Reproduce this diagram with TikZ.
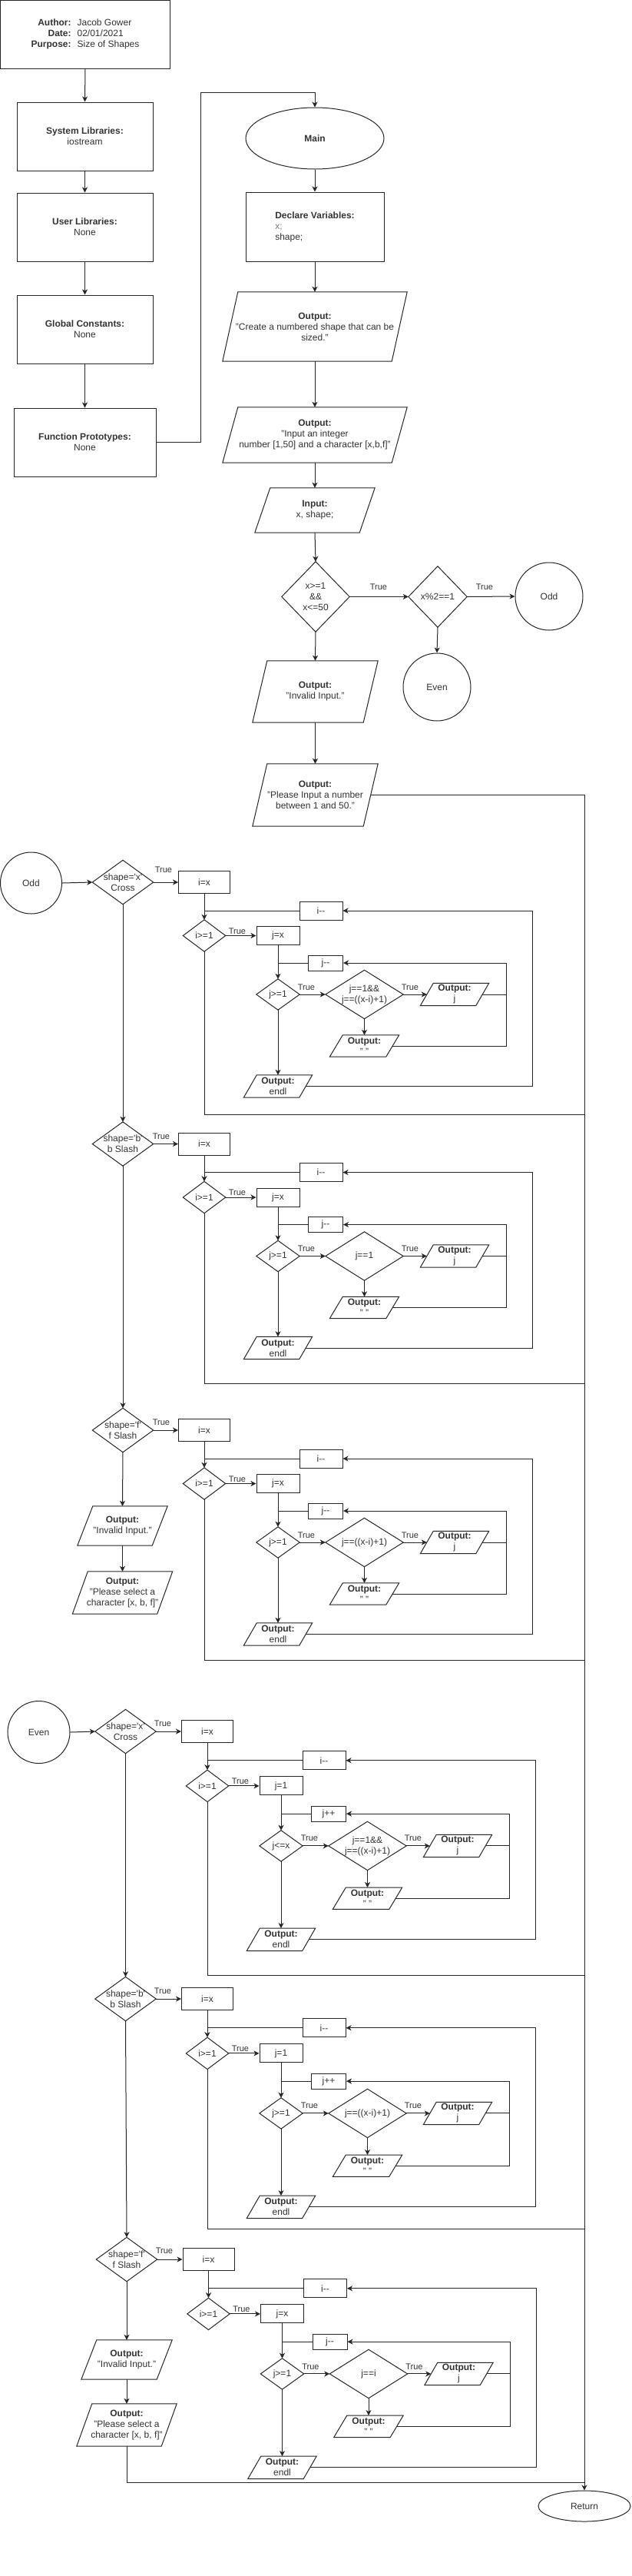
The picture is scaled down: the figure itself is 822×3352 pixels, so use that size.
\documentclass[tikz,border=0pt]{standalone}
\usepackage{fontspec}
\setmainfont{Liberation Sans}
\usetikzlibrary{shapes.geometric,arrows.meta,calc}
\tikzset{
  ln/.style={draw=black!85, line width=1pt},
  arr/.style={ln, -{Stealth[length=7pt,width=7pt,inset=2pt]}},
  shp/.style={draw=black!85, line width=1pt},
  txt/.style={font=\fontsize{12}{14}\selectfont, text=black!80, align=center, inner sep=0pt},
  pbox/.style={txt, rectangle, draw=black!85, line width=1pt},
  dtext/.style={txt, rectangle},
  rnd/.style={txt, draw=black!85, line width=1pt},
  lbl/.style={font=\fontsize{11}{13}\selectfont, text=black!80, inner sep=0pt},
}
\newcommand\para[7]{%
  \node[txt, minimum width={(#4-#6)*1pt}, minimum height={#5*1pt}] (#1) at ({#2},{#3}) {#7};
  \draw[shp] ([xshift={#6*0.5pt}]#1.north west) -- ([xshift={#6*0.5pt}]#1.north east) -- ([xshift={-#6*0.5pt}]#1.south east) -- ([xshift={-#6*0.5pt}]#1.south west) -- cycle;
}
\newcommand\dia[1]{\draw[shp] (#1.north) -- (#1.east) -- (#1.south) -- (#1.west) -- cycle;}
\newcommand\loopblock[8]{%
  \node[pbox, minimum width=67pt, minimum height=29pt] (#1ix) at ({266+#2},{#3}) {i=x};
  \node[pbox, minimum width=56pt, minimum height=24pt] (#1id) at ({418+#2},{#3+37*#4}) {i-\kern0pt-};
  \node[dtext, minimum width=55pt, minimum height=41pt] (#1idm) at ({266+#2},{#3+69.5*#4}) {i>=1};
  \dia{#1idm}
  \node[pbox, minimum width=56pt, minimum height=24pt] (#1jx) at ({362+#2},{#3+69.5*#4}) {#5};
  \node[pbox, minimum width=45pt, minimum height=20pt] (#1jd) at ({424+#2},{#3+105*#4}) {#6};
  \node[dtext, minimum width=56pt, minimum height=40pt] (#1jdm) at ({362+#2},{#3+146*#4}) {#7};
  \dia{#1jdm}
  \node[dtext, minimum width=101pt, minimum height=63pt] (#1cd) at ({474.5+#2},{#3+146*#4}) {#8};
  \dia{#1cd}
  \para{#1oj}{592+#2}{#3+146*#4}{89}{29}{17}{\textbf{Output:}\\j}
  \para{#1os}{474.5+#2}{#3+213*#4}{90}{28}{17}{\textbf{Output:}\\"\ "}
  \para{#1el}{362+#2}{#3+265.5*#4}{89}{29}{17}{\textbf{Output:}\\endl}
  \coordinate (#1or) at ({693+#2},{#3+37*#4});
  \coordinate (#1ir) at ({659+#2},{#3+105*#4});
  \draw[arr] (#1ix.south) -- (#1idm.north);
  \draw[ln] (#1id.west) -- (#1id.west -| #1ix.south);
  \draw[arr] (#1el.east) -| (#1or) -- (#1id.east);
  \draw[arr] (#1idm.east) -- (#1jx.west);
  \draw[arr] (#1jx.south) -- (#1jdm.north);
  \draw[ln] (#1jd.west) -- (#1jd.west -| #1jx.south);
  \draw[arr] (#1jdm.east) -- (#1cd.west);
  \draw[arr] (#1cd.east) -- (#1oj.west);
  \draw[arr] (#1cd.south) -- (#1os.north);
  \draw[arr] (#1oj.east) -| (#1ir) -- (#1jd.east);
  \draw[ln] (#1os.east) -| (#1ir);
  \draw[arr] (#1jdm.south) -- (#1el.north);
  \node[lbl] (#1ta) at ({309+#2},{#3+63.5*#4}) {True};
  \node[lbl] (#1tb) at ({399+#2},{#3+136.5*#4}) {True};
  \node[lbl] (#1tc) at ({534+#2},{#3+136.5*#4}) {True};
}
\begin{document}
\begin{tikzpicture}[x=1pt,y=-1pt]
\useasboundingbox (0,0) rectangle (822,3352);
\fill[white] (0,0) rectangle (822,3352);

% ---- header column
\node[pbox, minimum width=221pt, minimum height=88.5pt] (auth) at (111,44.75)
  {\begin{tabular}{@{}r@{\hspace{8pt}}l@{}}\textbf{Author:} & Jacob Gower\\ \textbf{Date:} & 02/01/2021\\ \textbf{Purpose:} & Size of Shapes\end{tabular}};
\node[pbox, minimum width=177pt, minimum height=89pt] (sys) at (110.5,177.5) {\textbf{System Libraries:}\\iostream};
\node[pbox, minimum width=177pt, minimum height=89pt] (usr) at (110.5,295.5) {\textbf{User Libraries:}\\None};
\node[pbox, minimum width=177pt, minimum height=89pt] (glb) at (110.5,428.5) {\textbf{Global Constants:}\\None};
\node[pbox, minimum width=185pt, minimum height=89pt] (fp) at (110.5,575.5) {\textbf{Function Prototypes:}\\None};
\draw[arr] (auth.south) -- (sys.north);
\draw[arr] (sys.south) -- (usr.north);
\draw[arr] (usr.south) -- (glb.north);
\draw[arr] (glb.south) -- (fp.north);

% ---- main column
\node[rnd, ellipse, minimum width=180pt, minimum height=80pt] (main) at (410,180) {\textbf{Main}};
\coordinate (fpj) at (261,120);
\draw[arr] (fp.east) -| (fpj) -| (main.north);
\node[pbox, minimum width=180pt, minimum height=90pt, align=left] (decl) at (410,295)
  {\textbf{Declare Variables:}\\{\color{black!50}x;}\\shape;};
\draw[arr] (main.south) -- (decl.north);
\para{ocr}{410}{425}{240}{90}{20}{\textbf{Output:}\\"Create a numbered shape that can be\\sized."}
\para{oin}{410}{566}{240}{72}{20}{\textbf{Output:}\\"Input an integer\\number [1,50] and a character [x,b,f]"}
\para{inp}{410}{664}{156}{58}{20}{\textbf{Input:}\\x, shape;}
\draw[arr] (decl.south) -- (ocr.north);
\draw[arr] (ocr.south) -- (oin.north);
\draw[arr] (oin.south) -- (inp.north);
\node[dtext, minimum width=88pt, minimum height=91pt] (d1) at (411,776.5) {x>=1\\\&\&\\x<=50};
\dia{d1}
\node[dtext, minimum width=76pt, minimum height=79pt] (d2) at (570,776.5) {x\%2==1};
\dia{d2}
\node[rnd, circle, minimum size=88pt] (odd) at (715,776) {Odd};
\node[rnd, circle, minimum size=88pt] (even) at (569,894) {Even};
\draw[arr] (inp.south) -- (d1.north);
\draw[arr] (d1.east) -- (d2.west);
\draw[arr] (d2.east) -- (odd.west);
\draw[arr] (d2.south) -- (even.north);
\node[lbl] (t1) at (493,764) {True};
\node[lbl] (t2) at (631,764) {True};
\para{tinv}{410.5}{900}{163}{80}{19}{\textbf{Output:}\\"Invalid Input."}
\para{tpl}{410.5}{1034.5}{163}{81}{19}{\textbf{Output:}\\"Please Input a number\\between 1 and 50."}
\draw[arr] (d1.south) -- (tinv.north);
\draw[arr] (tinv.south) -- (tpl.north);

% ---- return
\node[rnd, ellipse, minimum width=120pt, minimum height=40pt] (ret) at (761,3261) {Return};
\draw[arr] (tpl.east) -| (ret.north);

% ---- odd section
\node[rnd, circle, minimum size=80pt] (odd2) at (40.5,1149) {Odd};
\node[dtext, minimum width=79pt, minimum height=57pt] (sdox) at (160,1148) {shape=\textquotesingle x\textquotesingle\\Cross};
\dia{sdox}
\loopblock{oa}{0}{1148}{1}{j=x}{j-\kern0pt-}{j>=1}{j==1\&\&\\j==((x-i)+1)}
\draw[arr] (odd2.east) -- (sdox.west);
\draw[arr] (sdox.east) -- (oaix.west);
\node[lbl] (oat) at (213,1132) {True};
\coordinate (oabot) at (761,1450);
\draw[ln] (oaidm.south) |- (oabot);

\node[dtext, minimum width=79pt, minimum height=57pt] (sdob) at (160,1488.5) {shape=\textquotesingle b\textquotesingle\\b Slash};
\dia{sdob}
\loopblock{ob}{0}{1488.5}{1}{j=x}{j-\kern0pt-}{j>=1}{j==1}
\draw[arr] (sdob.east) -- (obix.west);
\node[lbl] (obt) at (210,1479) {True};
\coordinate (obbot) at (761,1800);
\draw[ln] (obidm.south) |- (obbot);

\node[dtext, minimum width=79pt, minimum height=57pt] (sdof) at (160,1861) {shape=\textquotesingle f\textquotesingle\\f Slash};
\dia{sdof}
\loopblock{oc}{0}{1861}{1}{j=x}{j-\kern0pt-}{j>=1}{j==((x-i)+1)}
\draw[arr] (sdof.east) -- (ocix.west);
\node[lbl] (oct) at (210,1851) {True};
\coordinate (ocbot) at (761,2160);
\draw[ln] (ocidm.south) |- (ocbot);

\para{oinv}{159.5}{1985.5}{117}{51}{20}{\textbf{Output:}\\"Invalid Input."}
\para{opl}{159.5}{2072.5}{130}{55}{20}{\textbf{Output:}\\"Please select a\\character [x, b, f]"}
\draw[arr] (sdox.south) -- (sdob.north);
\draw[arr] (sdob.south) -- (sdof.north);
\draw[arr] (sdof.south) -- (oinv.north);
\draw[arr] (oinv.south) -- (opl.north);

% ---- even section
\node[rnd, circle, minimum size=81pt] (even2) at (50.5,2254) {Even};
\node[dtext, minimum width=79pt, minimum height=57pt] (sdex) at (163.5,2253) {shape=\textquotesingle x\textquotesingle\\Cross};
\dia{sdex}
\loopblock{ea}{4}{2253}{1.02}{j=1}{j++}{j<=x}{j==1\&\&\\j==((x-i)+1)}
\draw[arr] (even2.east) -- (sdex.west);
\draw[arr] (sdex.east) -- (eaix.west);
\node[lbl] (eat) at (212,2243) {True};
\coordinate (eabot) at (761,2570);
\draw[ln] (eaidm.south) |- (eabot);

\node[dtext, minimum width=79pt, minimum height=57pt] (sdeb) at (163.5,2601) {shape=\textquotesingle b\textquotesingle\\b Slash};
\dia{sdeb}
\loopblock{eb}{4}{2601}{1.02}{j=1}{j++}{j>=1}{j==((x-i)+1)}
\draw[arr] (sdeb.east) -- (ebix.west);
\node[lbl] (ebt) at (212,2591) {True};
\coordinate (ebbot) at (761,2900);
\draw[ln] (ebidm.south) |- (ebbot);

\node[dtext, minimum width=79pt, minimum height=57pt] (sdef) at (165,2940) {shape=\textquotesingle f\textquotesingle\\f Slash};
\dia{sdef}
\loopblock{ec}{5.5}{2940}{1.02}{j=x}{j-\kern0pt-}{j>=1}{j==i}
\draw[arr] (sdef.east) -- (ecix.west);
\node[lbl] (ect) at (214,2929) {True};

\para{einv}{165}{3070.5}{118}{51}{20}{\textbf{Output:}\\"Invalid Input."}
\para{epl}{165}{3155.5}{130}{55}{20}{\textbf{Output:}\\"Please select a\\character [x, b, f]"}
\draw[arr] (sdex.south) -- (sdeb.north);
\draw[arr] (sdeb.south) -- (sdef.north);
\draw[arr] (sdef.south) -- (einv.north);
\draw[arr] (einv.south) -- (epl.north);
\coordinate (rj) at (761,3230);
\draw[ln] (epl.south) |- (rj);
\end{tikzpicture}
\end{document}
